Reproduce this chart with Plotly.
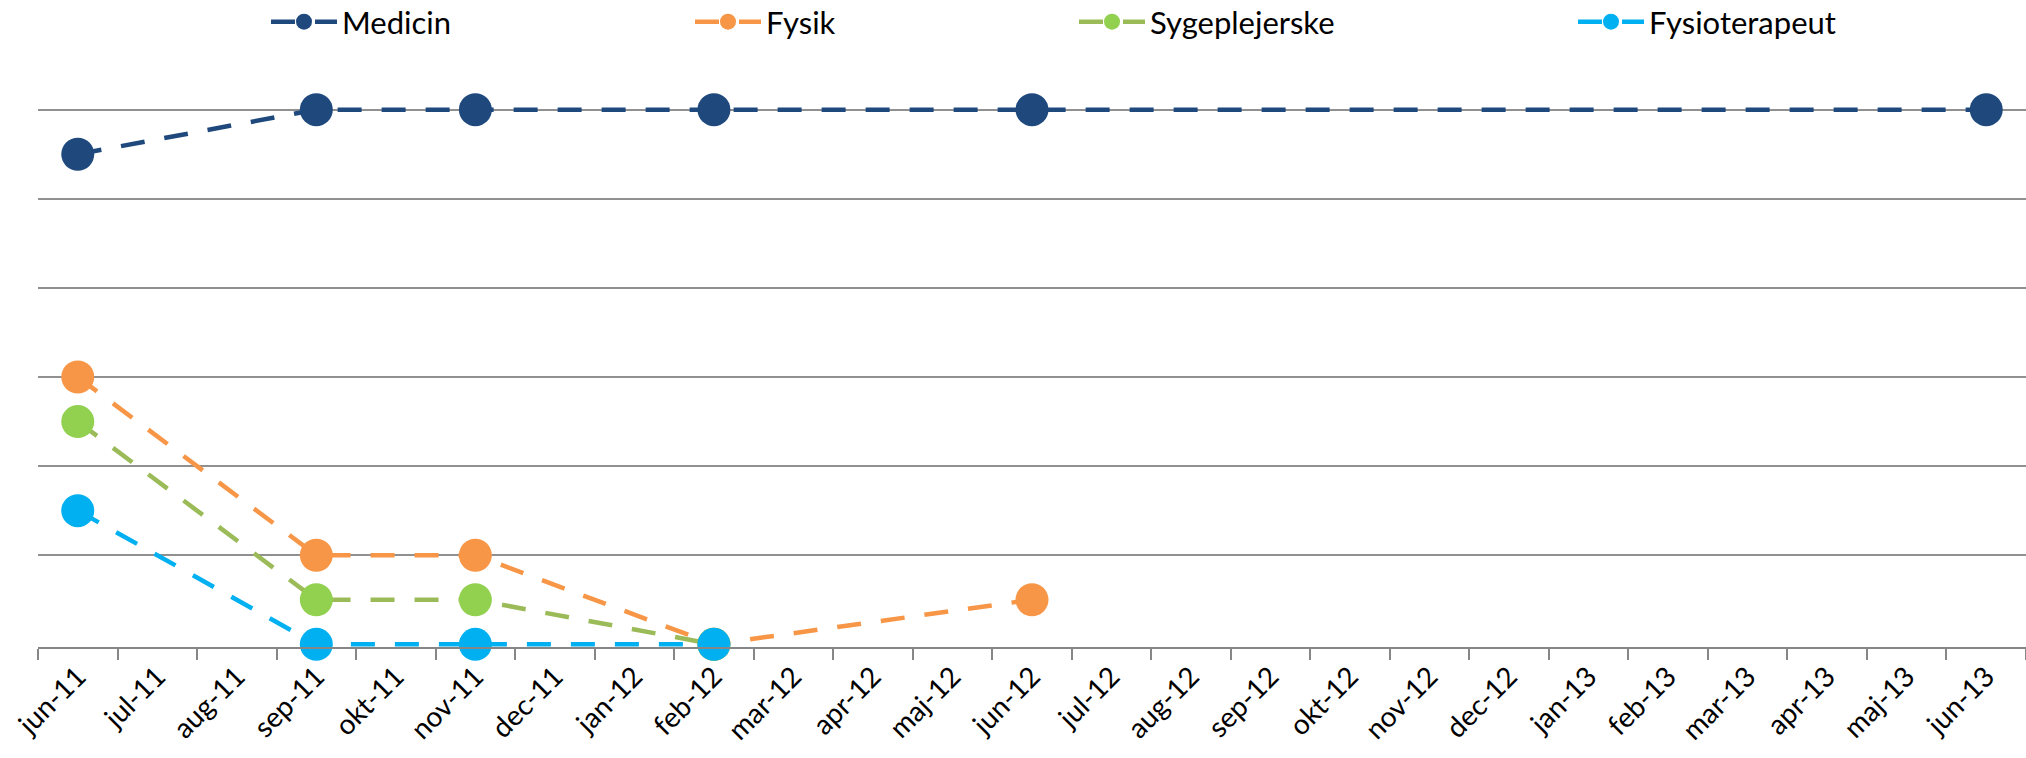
import plotly.graph_objects as go

# month categories on the x axis
months = ["jun-11", "jul-11", "aug-11", "sep-11", "okt-11", "nov-11", "dec-11",
          "jan-12", "feb-12", "mar-12", "apr-12", "maj-12", "jun-12", "jul-12",
          "aug-12", "sep-12", "okt-12", "nov-12", "dec-12", "jan-13", "feb-13",
          "mar-13", "apr-13", "maj-13", "jun-13"]

# series (gridline step = 1)
medicin_x = ["jun-11", "sep-11", "nov-11", "feb-12", "jun-12", "jun-13"]
medicin_y = [5.5, 6, 6, 6, 6, 6]

fysik_x = ["jun-11", "sep-11", "nov-11", "feb-12", "jun-12"]
fysik_y = [3, 1, 1, 0, 0.5]

syge_x = ["jun-11", "sep-11", "nov-11", "feb-12"]
syge_y = [2.5, 0.5, 0.5, 0]

fysio_x = ["jun-11", "sep-11", "nov-11", "feb-12"]
fysio_y = [1.5, 0, 0, 0]

W, H = 2026, 758
ML, MR, MT, MB = 38, 0, 107, 111
FONT = "Lato"

series = [
    ("Medicin", medicin_x, medicin_y, "#1F497D", "#1F497D", "legend", 261),
    ("Fysik", fysik_x, fysik_y, "#F79646", "#F79646", "legend2", 685),
    ("Sygeplejerske", syge_x, syge_y, "#9BBB59", "#92D050", "legend3", 1069),
    ("Fysioterapeut", fysio_x, fysio_y, "#00B0F0", "#00B0F0", "legend4", 1568),
]

fig = go.Figure()
for name, xs, ys, lc, mc, leg, _ in series:
    fig.add_trace(go.Scatter(
        x=xs, y=ys, name=name, mode="lines+markers",
        line=dict(color=lc, width=4.5, dash="24px,20px"),
        marker=dict(color=mc, size=33, line=dict(width=0)),
        legend=leg, cliponaxis=False, showlegend=True,
    ))

# one legend per series so each entry sits where it does in the original
layout_legends = {}
for name, xs, ys, lc, mc, leg, x0 in series:
    layout_legends[leg] = dict(
        x=(x0 + 5) / W, xref="container", xanchor="left",
        y=1 - 22 / H, yref="container", yanchor="middle",
        orientation="h", bgcolor="rgba(0,0,0,0)",
        font=dict(family=FONT, size=31, color="#000000"),
        itemwidth=66, visible=True,
    )

fig.update_layout(
    width=W, height=H,
    margin=dict(l=ML, r=MR, t=MT, b=MB, autoexpand=False),
    paper_bgcolor="white", plot_bgcolor="white",
    showlegend=True,
    font=dict(family=FONT, size=24, color="#000000"),
    **layout_legends,
    xaxis=dict(
        type="category", categoryorder="array", categoryarray=months,
        tickvals=months, range=[-0.5, len(months) - 0.5],
        tickangle=-45, tickson="boundaries", ticks="outside", ticklen=11,
        tickcolor="#868686", tickwidth=1.5,
        showline=True, linecolor="#868686", linewidth=2,
        showgrid=False, zeroline=False, automargin=False,
        tickfont=dict(family=FONT, size=28, color="#000000"),
    ),
    yaxis=dict(
        range=[-0.03, 6.03], tickvals=[1, 2, 3, 4, 5, 6], showticklabels=False,
        showgrid=True, gridcolor="#909090", gridwidth=1.5,
        zeroline=False, showline=False, automargin=False,
    ),
)

# page body has a default 8px margin; remove it so the figure fills the window
fig.write_html(
    "out.html",
    config={"displayModeBar": False},
    post_script="document.body.style.margin='0';document.body.style.overflow='hidden';",
)
